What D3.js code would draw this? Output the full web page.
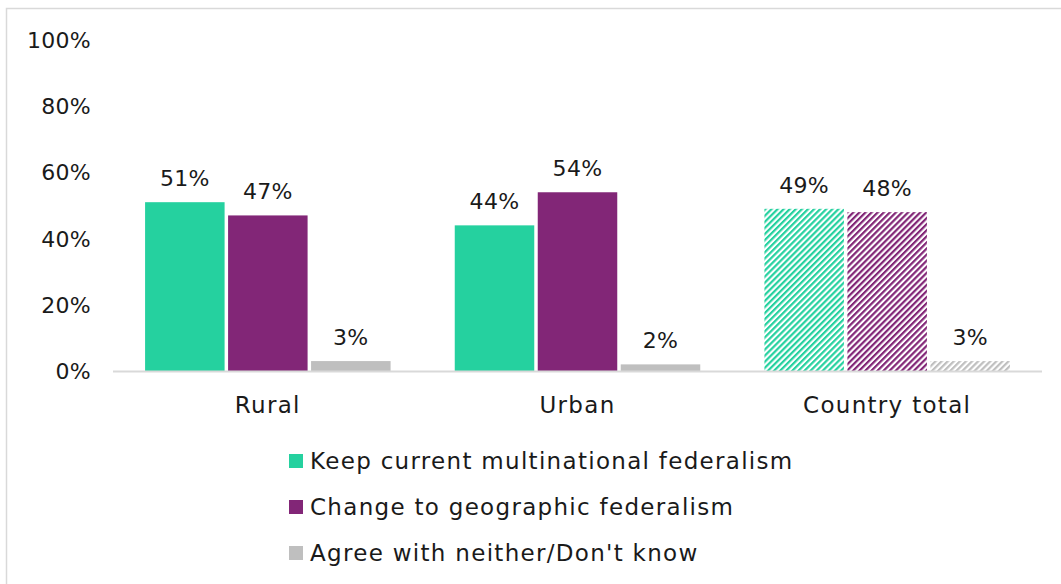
<!DOCTYPE html>
<html>
<head>
<meta charset="utf-8">
<script src="https://cdn.jsdelivr.net/npm/d3@7"></script>
<style>
  html, body { margin: 0; padding: 0; background: #fff; }
  svg { display: block; }
  text { font-family: "DejaVu Sans", sans-serif; fill: #1a1a1a; }
  .num { font-size: 22px; letter-spacing: 0.3px; }
  .word { font-size: 23px; letter-spacing: 1.3px; }
</style>
</head>
<body>
<svg id="chart" width="1061" height="584"></svg>
<script>
// Survey answers by area, share of respondents
const categories = ["Rural", "Urban", "Country total"];
const series = [
  "Keep current multinational federalism",
  "Change to geographic federalism",
  "Agree with neither/Don't know"
];
const keepValues = [0.51, 0.44, 0.49];
const changeValues = [0.47, 0.54, 0.48];
const neitherValues = [0.03, 0.02, 0.03];
const yTicks = [0, 0.2, 0.4, 0.6, 0.8, 1.0];
const hatchedCategory = "Country total";

const colors = ["#25D19F", "#822677", "#BFBFBF"];
const valuesBySeries = [keepValues, changeValues, neitherValues];

const svg = d3.select("#chart");

// Outer frame
svg.append("rect")
  .attr("x", 6.5).attr("y", 8.5)
  .attr("width", 1100).attr("height", 620)
  .attr("fill", "none").attr("stroke", "#d9d9d9").attr("stroke-width", 1.5);

// Diagonal hatch patterns for the overall totals
const defs = svg.append("defs");
colors.forEach((c, i) => {
  const p = defs.append("pattern")
    .attr("id", "hatch" + i)
    .attr("patternUnits", "userSpaceOnUse")
    .attr("width", 4.3).attr("height", 10)
    .attr("patternTransform", "rotate(45)");
  p.append("rect").attr("width", 4.3).attr("height", 10).attr("fill", "#fff");
  p.append("rect").attr("width", 2.2).attr("height", 10).attr("fill", c);
});

const y = d3.scaleLinear().domain([0, 1]).range([371, 40]);
const x0 = d3.scaleBand().domain(categories).range([113, 1042]);
const x1 = d3.scaleBand().domain(series).range([0, 245.5]).paddingInner(0.042);
const groupOffset = (x0.bandwidth() - 245.5) / 2;

// Y axis tick labels
svg.append("g").selectAll("text")
  .data(yTicks).join("text")
  .attr("class", "num")
  .attr("x", 91)
  .attr("y", d => y(d) + 8)
  .attr("text-anchor", "end")
  .text(d3.format(".0%"));

// Flattened bar records
const bars = [];
categories.forEach((cat, ci) => {
  series.forEach((s, si) => {
    bars.push({ cat, s, si, v: valuesBySeries[si][ci] });
  });
});

const barX = d => x0(d.cat) + groupOffset + x1(d.s);

svg.append("g").selectAll("rect")
  .data(bars).join("rect")
  .attr("x", barX)
  .attr("y", d => y(d.v))
  .attr("width", x1.bandwidth())
  .attr("height", d => y(0) - y(d.v))
  .attr("fill", d => d.cat === hatchedCategory ? `url(#hatch${d.si})` : colors[d.si]);

// Baseline
svg.append("line")
  .attr("x1", 113).attr("x2", 1042)
  .attr("y1", y(0) + 0.5).attr("y2", y(0) + 0.5)
  .attr("stroke", "#d9d9d9").attr("stroke-width", 2);

// Value labels
svg.append("g").selectAll("text")
  .data(bars).join("text")
  .attr("class", "num")
  .attr("x", d => barX(d) + x1.bandwidth() / 2)
  .attr("y", d => y(d.v) - 16)
  .attr("text-anchor", "middle")
  .text(d => d3.format(".0%")(d.v));

// Category labels
svg.append("g").selectAll("text")
  .data(categories).join("text")
  .attr("class", "word")
  .attr("x", d => x0(d) + x0.bandwidth() / 2)
  .attr("y", 413)
  .attr("text-anchor", "middle")
  .text(d => d);

// Legend
const legend = svg.append("g").selectAll("g")
  .data(series).join("g")
  .attr("transform", (d, i) => `translate(289, ${461 + i * 46})`);
legend.append("rect")
  .attr("x", 0).attr("y", -7)
  .attr("width", 14).attr("height", 14)
  .attr("fill", (d, i) => colors[i]);
legend.append("text")
  .attr("class", "word")
  .attr("x", 21).attr("y", 8)
  .text(d => d);
</script>
</body>
</html>
